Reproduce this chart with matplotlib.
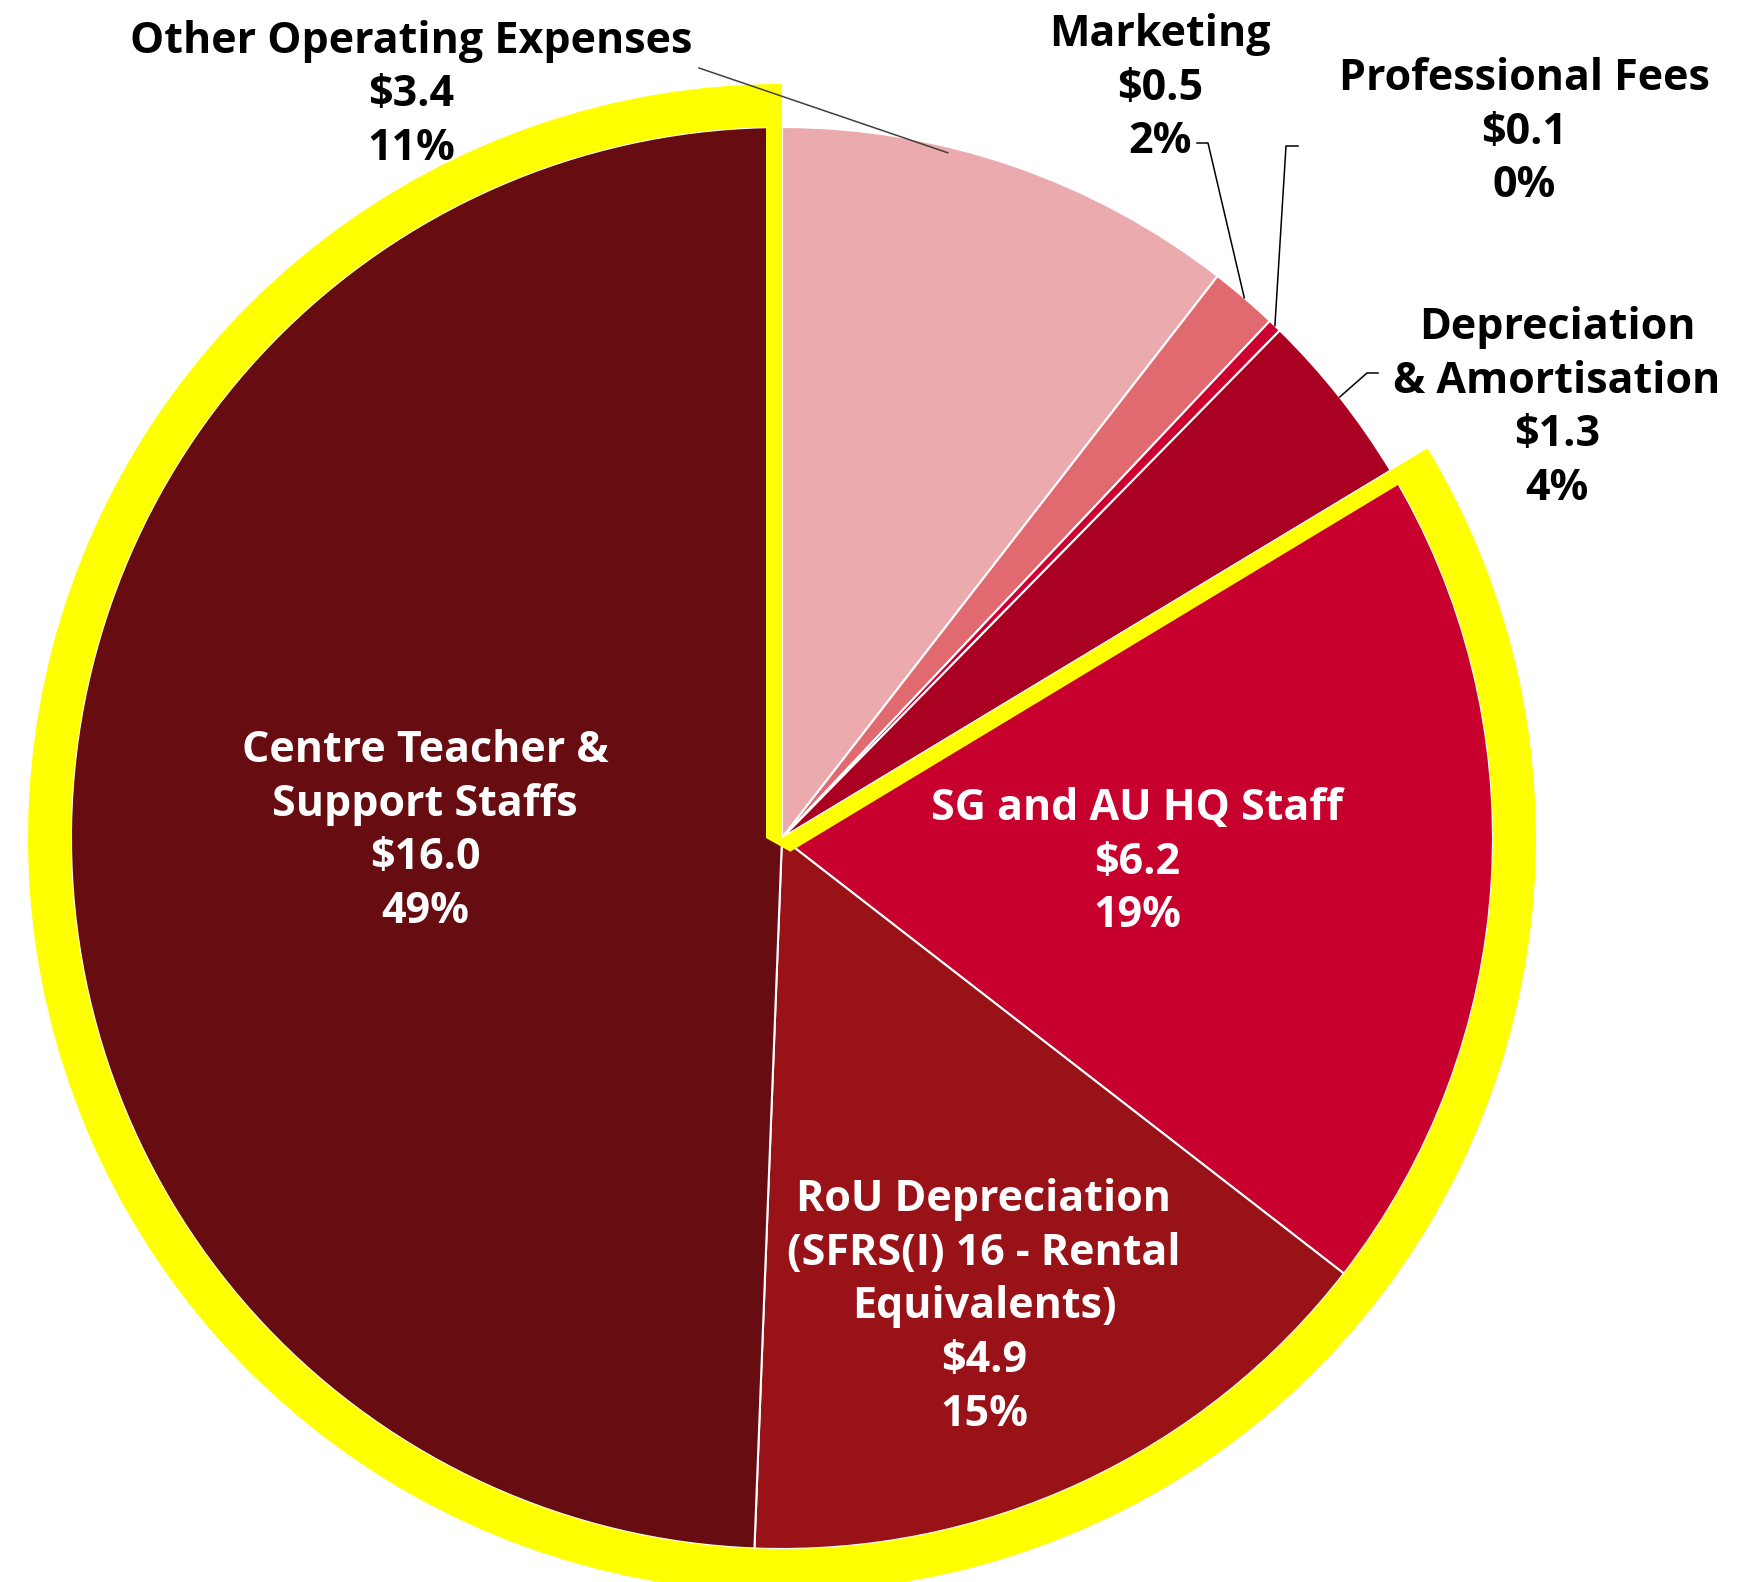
import numpy as np
import matplotlib.pyplot as plt
from matplotlib.patches import Wedge, Polygon

# expense breakdown ($m), clockwise from 12 o'clock
categories = ['Other Operating Expenses', 'Marketing', 'Professional Fees',
              'Depreciation\n& Amortisation', 'SG and AU HQ Staff',
              'RoU Depreciation\n(SFRS(I) 16 - Rental\nEquivalents)',
              'Centre Teacher &\nSupport Staffs']
values = [3.4, 0.5, 0.1, 1.3, 6.2, 4.9, 16.0]
pct_labels = ['11%', '2%', '0%', '4%', '19%', '15%', '49%']
colors = ['#EBABAE', '#E06A70', '#CC0030', '#AA0022', '#C8002D', '#981218', '#670C11']

W, H = 1757, 1582
cx, cy, R = 782, 744, 711
ring = 43
strip = 16

fig = plt.figure(figsize=(W / 100, H / 100), dpi=100)
ax = fig.add_axes([0, 0, 1, 1])

wedges, _ = ax.pie(values, colors=colors, startangle=90, counterclock=False,
                   center=(cx, cy), radius=R,
                   wedgeprops=dict(edgecolor='white', linewidth=1.5))
ax.set_xlim(0, W)
ax.set_ylim(0, H)
ax.set_aspect('equal')
ax.axis('off')

# yellow outline around the three staff / rental slices
total = sum(values)
th_end = 90 - 360 * sum(values[:4]) / total + 360
ax.add_patch(Wedge((cx, cy), R + ring, 90, th_end, width=ring,
                   facecolor='#FFFF00', edgecolor='none', zorder=5))
u = np.array([np.cos(np.radians(th_end)), np.sin(np.radians(th_end))])
n = np.array([u[1], -u[0]])
c = np.array([cx, cy])
top = R + ring - 2
pts = [(cx - strip, cy + top), (cx - strip, cy), c + n * strip,
       c + n * strip + u * top, c + u * top, c, (cx, cy + top)]
ax.add_patch(Polygon(pts, closed=True, facecolor='#FFFF00', edgecolor='none', zorder=5))

fs = 31
font = 'Open Sans'

def mid_point(i, frac=0.5, r=R):
    start = 90 - 360 * sum(values[:i]) / total
    ang = np.radians(start - frac * 360 * values[i] / total)
    return cx + r * np.cos(ang), cy + r * np.sin(ang)

# label positions (pixels, y up)
label_pos = [(411, 1487), (1160, 1494), (1524, 1450), (1557, 1174),
             (1137, 720), (984, 275), (425, 751)]
inside = [False, False, False, False, True, True, True]

for i, name in enumerate(categories):
    txt = f'{name}\n${values[i]:.1f}\n{pct_labels[i]}'
    ax.text(*label_pos[i], txt, ha='center', va='center', fontsize=fs,
            fontweight='bold', family=font, linespacing=1.32,
            color='white' if inside[i] else 'black', zorder=6)

# leader lines
x0, y0 = mid_point(0, 0.36, R - 6)
ax.plot([699, x0], [H - 68, y0], color='#404040', lw=1.1, zorder=6)
x1, y1 = mid_point(1, 0.5, R)
ax.plot([1197, 1208, x1], [H - 143, H - 143, y1], color='black', lw=1.1, zorder=6)
x2, y2 = mid_point(2, 0.5, R)
ax.plot([1298, 1286, x2], [H - 146, H - 146, y2], color='black', lw=1.1, zorder=6)
x3, y3 = mid_point(3, 0.5, R)
ax.plot([1378, 1367, x3], [H - 373, H - 373, y3], color='black', lw=1.1, zorder=6)

fig.savefig('out.png', dpi=100, facecolor='white')
